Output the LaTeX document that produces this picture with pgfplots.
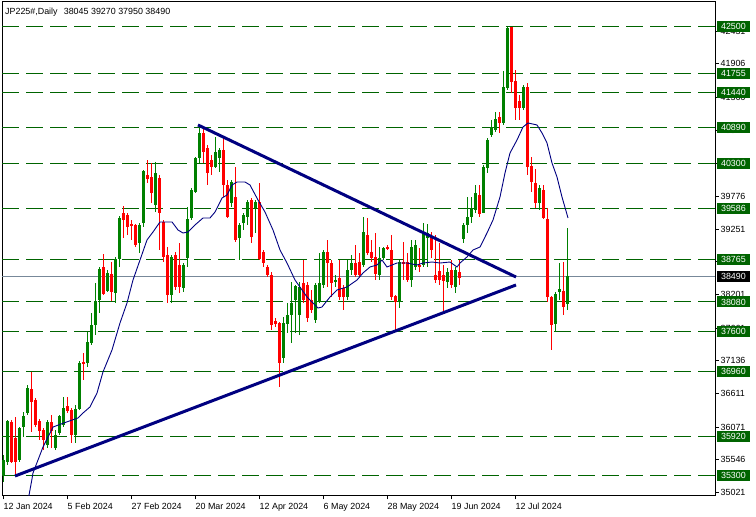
\documentclass[border=0pt]{standalone}
\usepackage{fontspec}
\setmainfont{Liberation Sans}
\usepackage{pgfplots}
\usepackage{pgfplotstable}
\pgfplotsset{compat=1.18}
\definecolor{cgreen}{RGB}{0,128,0}
\definecolor{cred}{RGB}{255,0,0}
\definecolor{lvl}{RGB}{0,100,0}
\definecolor{navy}{RGB}{0,0,128}
\definecolor{pgray}{RGB}{119,136,153}

\pgfplotstableread{
i o h l c
0 35302 35623 35189 35542
1 35510 36185 35462 36169
4 35542 36072 35510 36056
5 36072 36313 35912 36249
6 36297 36747 36265 36699
11 35784 36185 35735 36153
13 35735 36024 35703 35944
14 35976 36265 35944 36249
15 36105 36554 36072 36378
18 35944 36426 35816 36362
19 36362 37132 36346 37100
21 37100 37598 37036 37437
22 37421 37903 37389 37711
23 37711 38385 37550 38096
24 38112 38642 37903 38610
26 38257 38594 38241 38546
28 38224 38803 38063 38771
29 38771 39461 38642 39429
34 39028 39349 38867 39317
35 39349 40200 39284 40184
38 39638 40328 39525 40152
42 38192 38835 38063 38803
45 38305 38706 38241 38674
46 38787 39606 38642 39413
47 39429 39911 39397 39879
48 39846 40409 39830 40393
49 40393 40874 40312 40794
53 40248 40730 40232 40489
54 40393 40553 40168 40521
57 39670 40039 39606 40007
59 39108 39349 38754 39317
60 39349 39509 39236 39477
61 39445 39718 39317 39686
63 39590 39718 39188 39686
70 37180 37839 37100 37743
71 37727 38063 37582 37871
72 37871 38401 37421 38063
73 38112 38353 37582 38337
74 37871 38401 37550 38321
78 37791 38385 37743 38353
79 38079 38867 38063 38385
80 38353 38915 38305 38883
83 38401 38514 38321 38433
86 38160 38754 38112 38594
87 38594 38835 38514 38706
90 38674 39445 38642 39204
94 38514 38963 38433 38787
95 38787 38963 38754 38947
99 38079 38754 37983 38722
102 38433 39076 38321 38963
103 38642 39076 38594 38995
105 38674 39349 38642 39204
106 39108 39333 38642 39188
111 38401 38626 38305 38562
113 38321 38642 38224 38594
115 39092 39349 39028 39317
116 39317 39766 39188 39445
117 39445 39766 39349 39590
118 39557 39959 39509 39830
120 39509 40280 39509 40248
121 40232 40714 40152 40682
122 40762 41003 40730 40890
123 40842 41131 40810 41019
125 40955 41790 40923 41533
126 41517 42500 41485 42480
130 41196 41565 41164 41533
134 39670 39959 39557 39911
138 37727 38241 37598 38208
139 38241 38706 38112 38289
141 38045 39270 37950 38490
}\greentab

\pgfplotstableread{
i o h l c
2 36153 36185 35494 35510
3 35896 36233 35302 35510
7 36683 36956 35992 36474
8 36506 36538 36072 36105
9 36169 36201 35864 36008
10 36024 36056 35703 35864
12 36153 36265 35735 36008
16 36410 36554 36297 36330
17 36346 36378 35816 35944
20 37116 37261 36827 37082
25 38642 38851 38192 38208
27 38530 38722 38096 38241
30 39509 39622 39108 39397
31 39477 39509 39156 39284
32 39333 39397 39076 39300
33 39317 39333 38963 38995
36 40120 40360 39991 40055
37 40087 40312 39670 39830
39 40071 40120 38915 39509
40 39365 39397 38722 38803
41 38835 38963 38063 38192
43 38835 38883 38273 38321
44 38674 39028 38224 38321
50 40794 40874 40312 40489
51 40553 40602 39959 40152
52 40360 40441 40120 40248
55 40521 40730 39766 39959
56 39959 40039 39429 39445
58 39766 40248 39044 39076
62 39718 39750 39028 39124
64 39686 39991 38754 38770
65 38883 38915 38642 38706
66 38642 38674 38481 38514
67 38514 38562 37630 37711
68 37775 37823 37679 37727
69 37743 37759 36715 37100
75 38385 38754 38063 38112
76 38353 38401 37759 37823
77 38112 38273 37903 37951
81 38883 39076 38321 38706
82 38706 38754 38160 38385
84 38465 38754 38112 38160
85 38305 38353 37951 38160
88 38706 38995 38481 38514
89 38722 38867 38481 38514
91 39156 39429 38835 38867
92 38883 39076 38722 38787
93 38803 39188 38433 38530
96 38963 38995 38915 38931
97 38915 39156 38112 38160
98 38176 38192 37598 38079
100 38722 39044 38433 38706
101 38722 38867 38401 38433
104 38674 38947 38562 38642
107 39124 39204 38787 38915
108 38514 39156 38385 38433
109 38578 39028 38353 38433
110 38514 38674 37919 38417
112 38594 38754 38305 38353
114 38562 38754 38353 38465
119 39798 39959 39445 39493
124 41051 41131 40794 40955
127 42496 42500 41436 41613
128 41629 41806 41003 41196
129 41308 41404 41003 41196
131 41533 41597 40120 40248
132 40264 40409 39846 40007
133 39991 40216 39590 39670
135 39879 39959 39420 39429
136 39413 39590 38079 38160
137 38160 38170 37309 37711
140 38257 38722 37871 37999
}\redtab

\begin{document}
\begin{tikzpicture}
\path[use as bounding box] (-2pt,-21pt) rectangle (754pt,496pt);
\begin{axis}[
  at={(0pt,0pt)}, anchor=south west,
  scale only axis, width=713pt, height=495pt,
  xmin=-0.25, xmax=178, ymin=34964, ymax=42914,
  clip mode=individual,
  axis line style={black, line width=1pt},
  font=\fontsize{8.9}{10}\selectfont,
  xtick={0,16,32,48,64,80,96,112,128},
  xticklabels={12 Jan 2024,5 Feb 2024,27 Feb 2024,20 Mar 2024,12 Apr 2024,6 May 2024,28 May 2024,19 Jun 2024,12 Jul 2024},
  ytick={35021,35546,36071,36611,37136,37661,38201,38726,39251,39776,40301,40841,41366,41906,42431},
  yticklabels={35021,35546,36071,36611,37136,37661,38201,38726,39251,39776,40301,40841,41366,41906,42431},
  xtick pos=bottom, ytick pos=right, yticklabel pos=right,
  tick align=outside, major tick length=3.5pt,
  tick style={black, line width=0.8pt},
  xticklabel style={anchor=base west, inner sep=0pt, xshift=0.5pt, yshift=-10.5pt},
  yticklabel style={anchor=west, inner sep=0pt, xshift=2pt},
]
% level lines
\pgfplotsinvokeforeach{42500,41755,41440,40890,40300,39586,38765,38080,37600,36960,35920,35300}{
  \addplot[lvl, line width=1pt, dash pattern=on 17pt off 7pt, forget plot] coordinates {(-0.25,#1) (178,#1)};
}
\addplot[pgray, line width=1pt, forget plot] coordinates {(-0.25,38490) (178,38490)};
% wicks
\addplot[draw=none, mark=none, forget plot, error bars/.cd, y dir=both, y explicit, error mark=none,
  error bar style={line width=1pt, draw=cgreen, solid}]
  table[x=i, y expr={0.5*(\thisrow{h}+\thisrow{l})}, y error expr={0.5*(\thisrow{h}-\thisrow{l})}] {\greentab};
\addplot[draw=none, mark=none, forget plot, error bars/.cd, y dir=both, y explicit, error mark=none,
  error bar style={line width=1pt, draw=cred, solid}]
  table[x=i, y expr={0.5*(\thisrow{h}+\thisrow{l})}, y error expr={0.5*(\thisrow{h}-\thisrow{l})}] {\redtab};
% bodies
\addplot[draw=none, mark=none, forget plot, error bars/.cd, y dir=both, y explicit, error mark=none,
  error bar style={line width=3pt, draw=cgreen, solid}]
  table[x=i, y expr={0.5*(\thisrow{o}+\thisrow{c})}, y error expr={0.5*abs(\thisrow{c}-\thisrow{o})}] {\greentab};
\addplot[draw=none, mark=none, forget plot, error bars/.cd, y dir=both, y explicit, error mark=none,
  error bar style={line width=3pt, draw=cred, solid}]
  table[x=i, y expr={0.5*(\thisrow{o}+\thisrow{c})}, y error expr={0.5*abs(\thisrow{o}-\thisrow{c})}] {\redtab};
% moving average
\addplot[navy, line width=0.9pt, forget plot] coordinates {
(6,34800) (7.2,35221) (7.5,35334) (8.75,35542) (10,35751) (12.5,36072) (16,36155) (18.75,36217) (20,36297) (21.75,36394) (23.5,36618) (25,36956) (27.25,37309) (29.25,37743) (31,38064) (32.5,38433) (34.25,38754) (36,39076) (37.5,39204) (39.25,39365) (42.25,39365) (43.75,39236) (45,39188) (46.25,39204) (48,39317) (50,39429) (51.75,39429) (53,39525) (54.75,39750) (56,39798) (57.25,39959) (58.5,40007) (60.5,40007) (61.75,39959) (63.75,39718) (65.5,39525) (67.5,39236) (69.25,38915) (71,38706) (73,38433) (76,38160) (78.75,37983) (79.75,37999) (81.75,38160) (83.5,38273) (86,38321) (88.5,38433) (90,38546) (91.75,38642) (93.5,38674) (94.75,38754) (96,38642) (98.5,38706) (101,38706) (103.5,38674) (105,38706) (107.25,38722) (109.25,38706) (111.75,38722) (113.5,38642) (114.25,38706) (116,38803) (117.5,38915) (119.25,38963) (121,39188) (122.5,39397) (124.25,39766) (125.5,40152) (126.75,40473) (128.5,40682) (130,40890) (131.25,40955) (133.5,40923) (134.75,40794) (136,40634) (137.25,40312) (138.5,40087) (139.75,39766) (141.25,39429)
};
% trend lines
\addplot[navy, line width=3pt, forget plot] coordinates {(48.75,40923) (128.25,38481)};
\addplot[navy, line width=3pt, forget plot] coordinates {(3,35285) (128.25,38353)};
% right labels
\pgfplotsinvokeforeach{42500,41755,41440,40890,40300,39586,38765,38080,37600,36960,35920,35300}{
  \node[anchor=west, fill=lvl, text=white, inner sep=0pt, minimum width=33.5pt, minimum height=11pt, text height=6.2pt, text depth=0pt, xshift=1.5pt] at (axis cs:178,#1) {#1};
}
\node[anchor=west, fill=black, text=white, inner sep=0pt, minimum width=33.5pt, minimum height=11pt, text height=6.2pt, text depth=0pt, xshift=1.5pt] at (axis cs:178,38490) {38490};
\node[anchor=base west, inner sep=0pt, xshift=3pt, yshift=-13pt] at (rel axis cs:0,1) {JP225\#,Daily\hspace{0.7em}38045 39270 37950 38490};
\end{axis}
\end{tikzpicture}
\end{document}
